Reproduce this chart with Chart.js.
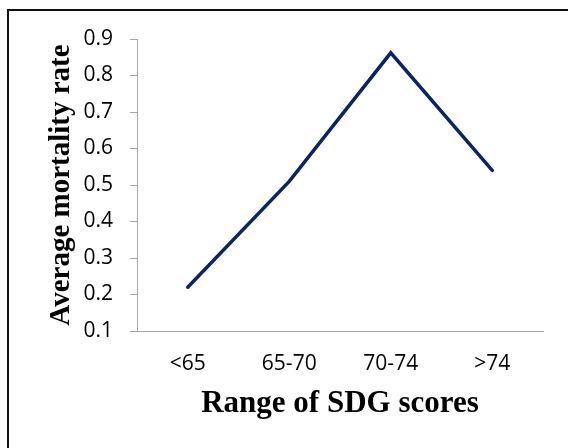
<!DOCTYPE html>
<html>
<head>
<meta charset="utf-8">
<script src="https://cdn.jsdelivr.net/npm/chart.js@4.4.0/dist/chart.umd.min.js"></script>
<style>
  html, body { margin: 0; padding: 0; background: #fff; overflow: hidden; }
  #wrap { position: relative; width: 568px; height: 448px; }
  #frame {
    position: absolute; left: 7px; top: 9px; width: 620px; height: 500px;
    border-left: 2px solid #111; border-top: 2px solid #111;
    pointer-events: none;
  }
  canvas { position: absolute; left: 0; top: 0; }
</style>
</head>
<body>
<div id="wrap">
  <canvas id="myChart" width="568" height="448"></canvas>
  <div id="frame"></div>
</div>
<script>
// chart data
const categories = ['<65', '65-70', '70-74', '>74'];
const mortalityRates = [0.22, 0.51, 0.862, 0.54];
const yTicks = [0.1, 0.2, 0.3, 0.4, 0.5, 0.6, 0.7, 0.8, 0.9];

const axisGray = '#a6a6a6';

const chart = new Chart(document.getElementById('myChart'), {
    type: 'line',
    data: {
        labels: categories,
        datasets: [{
            data: mortalityRates,
            borderColor: '#0c2461',
            borderWidth: 3.5,
            borderCapStyle: 'round',
            borderJoinStyle: 'miter',
            pointRadius: 0,
            tension: 0,
            fill: false,
        }],
    },
    options: {
        responsive: false,
        animation: false,
        plugins: {
            legend: {display: false},
            tooltip: {enabled: false},
        },
        layout: {
            padding: {left: 0, right: 25, top: 39, bottom: 0},
        },
        scales: {
            x: {
                offset: true,
                grid: {display: false, drawTicks: false},
                border: {display: true, color: axisGray, width: 1},
                ticks: {
                    color: '#000',
                    padding: 20,
                    font: {family: 'Open Sans', size: 21},
                },
                title: {
                    display: true,
                    text: 'Range of SDG scores',
                    color: '#000',
                    padding: {top: 0, bottom: 25},
                    font: {family: 'Liberation Serif', size: 31, weight: 'bold'},
                },
                afterFit: (scale) => { scale.height = 117; },
            },
            y: {
                min: 0.1,
                max: 0.9,
                afterBuildTicks: (scale) => { scale.ticks = yTicks.map(v => ({value: v})); },
                grid: {
                    drawOnChartArea: false,
                    drawTicks: true,
                    tickLength: 7,
                    color: axisGray,
                },
                border: {display: true, color: axisGray, width: 1},
                ticks: {
                    color: '#000',
                    padding: 17,
                    font: {family: 'Open Sans', size: 21},
                    callback: (v) => v.toFixed(1),
                },
                title: {
                    display: true,
                    text: 'Average mortality rate',
                    color: '#000',
                    padding: {top: 44, bottom: 0},
                    font: {family: 'Liberation Serif', size: 29, weight: 'bold'},
                },
                afterFit: (scale) => { scale.width = 137; },
            },
        },
    },
});
</script>
</body>
</html>
